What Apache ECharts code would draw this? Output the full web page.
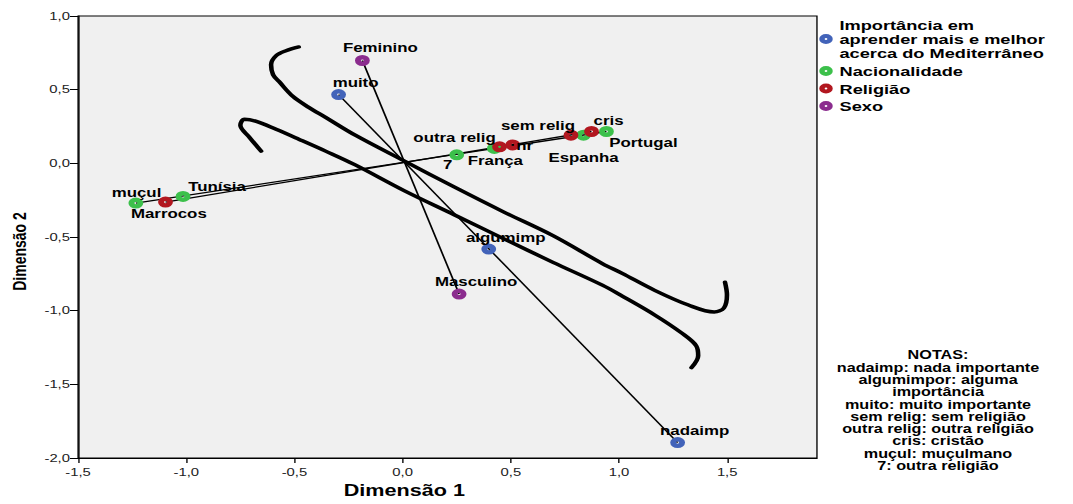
<!DOCTYPE html>
<html><head><meta charset="utf-8">
<script src="https://cdn.jsdelivr.net/npm/echarts@6/dist/echarts.min.js"></script>
<style>
html,body{margin:0;padding:0;background:#fff;overflow:hidden}
#wrap{width:1073px;height:504px;overflow:hidden}
#c{width:795px;height:504px;transform:scaleX(1.349686);transform-origin:0 0}
</style>
</head><body><div id="wrap"><div id="c"></div></div>
<script>
// ---- data ----
const xTicks = [-1.5, -1.0, -0.5, 0.0, 0.5, 1.0, 1.5];
const yTicks = [-2.0, -1.5, -1.0, -0.5, 0.0, 0.5, 1.0];

const impName = 'Importância em\naprender mais e melhor\nacerca do Mediterrâneo';
const impCats = ['muito', 'algumimp', 'nadaimp'];
const impX = [-0.296, 0.398, 1.271];
const impY = [0.467, -0.582, -1.895];

const nacName = 'Nacionalidade';
const nacCats = ['Marrocos', 'Tunísia', '7', 'França', 'Espanha', 'Portugal'];
const nacX = [-1.233, -1.015, 0.250, 0.424, 0.836, 0.942];
const nacY = [-0.270, -0.225, 0.058, 0.101, 0.191, 0.216];

const relName = 'Religião';
const relCats = ['muçul', 'outra relig', 'nr', 'sem relig', 'cris'];
const relX = [-1.096, 0.448, 0.509, 0.778, 0.873];
const relY = [-0.263, 0.112, 0.125, 0.191, 0.216];

const sexName = 'Sexo';
const sexCats = ['Feminino', 'Masculino'];
const sexX = [-0.186, 0.261];
const sexY = [0.698, -0.887];

// hand-drawn annotation strokes (data coordinates)
const strokeUpper = [[-0.480,0.790],[-0.539,0.764],[-0.585,0.730],[-0.608,0.669],[-0.599,0.602],[-0.571,0.555],[-0.507,0.454],[-0.434,0.380],[-0.356,0.312],[-0.219,0.191],[0.009,0.015],[0.238,-0.160],[0.466,-0.329],[0.695,-0.491],[0.923,-0.680],[1.015,-0.747],[1.165,-0.862],[1.321,-0.962],[1.440,-1.009],[1.485,-0.982],[1.499,-0.894],[1.490,-0.807]];
const strokeLower = [[-0.654,0.083],[-0.708,0.177],[-0.750,0.258],[-0.731,0.299],[-0.676,0.285],[-0.585,0.231],[-0.480,0.164],[-0.356,0.083],[-0.219,-0.011],[0.009,-0.187],[0.238,-0.349],[0.466,-0.511],[0.695,-0.672],[0.923,-0.827],[1.015,-0.901],[1.165,-1.029],[1.289,-1.151],[1.357,-1.239],[1.366,-1.306],[1.335,-1.387]];

const notesLines = ['NOTAS:', 'nadaimp: nada importante', 'algumimpor: alguma', 'importância', 'muito: muito importante', 'sem relig: sem religião', 'outra relig: outra religião', 'cris: cristão', 'muçul: muçulmano', '7: outra religião'];

// ---- styling ----
const SX = 1.349686; // horizontal stretch of the whole picture
const FONT = '"Liberation Sans", Arial, sans-serif';
const colors = {imp: '#4263b9', nac: '#3cc04b', rel: '#b2171f', sex: '#8b2c8e'};
const SYM = 'path://M10,0A10,10 0 1,1 -10,0A10,10 0 1,1 10,0ZM2,0A2,2 0 1,0 -2,0A2,2 0 1,0 2,0Z';
// label offsets in screen pixels (dx, dy)
const labelOff = {
  'muito':[17,-12], 'algumimp':[17,-11], 'nadaimp':[17,-12],
  'Marrocos':[33,11], 'Tunísia':[34,-10], '7':[-9,10], 'França':[1,12], 'Espanha':[0,23], 'Portugal':[37,11],
  'muçul':[-29,-9], 'outra relig':[-45,-9], 'nr':[12,1], 'sem relig':[-33,-9], 'cris':[17,-11],
  'Feminino':[18,-13], 'Masculino':[17,-12]
};

function pts(cats, xs, ys) {
  return cats.map((n, i) => ({
    name: n, value: [xs[i], ys[i]],
    label: {offset: [labelOff[n][0] / SX, labelOff[n][1]]}
  }));
}
function seg(xs, ys) {
  let a = 0, b = 0;
  xs.forEach((v, i) => { if (v < xs[a]) a = i; if (v > xs[b]) b = i; });
  return [[xs[a], ys[a]], [xs[b], ys[b]]];
}
const fmt = v => (Math.abs(v) < 1e-9 ? 0 : v).toFixed(1).replace('.', ',');

function scatter(name, color, data) {
  return {
    type: 'scatter', name, data, symbol: SYM, symbolSize: 11, z: 5,
    itemStyle: {color, opacity: 1},
    label: {show: true, position: 'inside', formatter: '{b}', color: '#000', fontFamily: FONT,
            fontWeight: 'bold', fontSize: 12.5, textBorderWidth: 0},
    emphasis: {disabled: true}
  };
}
function thin(data) {
  return {type: 'line', data, symbol: 'none', silent: true, z: 3,
          lineStyle: {color: '#000', width: 1.3}};
}
function thick(data) {
  return {type: 'line', data, symbol: 'none', silent: true, smooth: 0.35, z: 4,
          lineStyle: {color: '#000', width: 3.4, cap: 'round', join: 'round'}};
}

const chart = echarts.init(document.getElementById('c'), null, {renderer: 'svg'});
const legendText = {fontFamily: FONT, fontWeight: 'bold', fontSize: 13.5, color: '#000'};
chart.setOption({
  animation: false,
  backgroundColor: '#ffffff',
  grid: {left: 51.9, right: 189.7, top: 16, bottom: 43, show: true, backgroundColor: '#f0f0f0',
         borderColor: '#000', borderWidth: 1},
  xAxis: {
    type: 'value', min: -1.5, max: 1.915, interval: 0.5,
    name: 'Dimensão 1', nameLocation: 'middle', nameGap: 25,
    nameTextStyle: {fontFamily: FONT, fontWeight: 'bold', fontSize: 16, color: '#000', padding: [0, 64, 0, 0]},
    axisLine: {onZero: false, lineStyle: {color: '#000', width: 1}},
    axisTick: {show: true, length: 5, lineStyle: {color: '#000'}, customValues: xTicks},
    axisLabel: {fontFamily: FONT, fontSize: 11, color: '#222', margin: 9, formatter: fmt, customValues: xTicks},
    splitLine: {show: false}
  },
  yAxis: {
    type: 'value', min: -2.0, max: 1.0, interval: 0.5,
    name: 'Dimensão 2', nameLocation: 'middle', nameGap: 30,
    nameTextStyle: {fontFamily: FONT, fontWeight: 'bold', fontSize: 14, color: '#000', padding: [0, 29, 0, 0]},
    axisLine: {onZero: false, lineStyle: {color: '#000', width: 1}},
    axisTick: {show: true, length: 6, lineStyle: {color: '#000'}, customValues: yTicks},
    axisLabel: {fontFamily: FONT, fontSize: 11, color: '#222', margin: 6, formatter: fmt, customValues: yTicks},
    splitLine: {show: false}
  },
  legend: [
    {orient: 'vertical', left: 607, top: 18, padding: 0, itemWidth: 10, itemHeight: 11, icon: SYM,
     selectedMode: false, data: [impName], textStyle: Object.assign({lineHeight: 14}, legendText)},
    {orient: 'vertical', left: 607, top: 64, padding: 0, itemGap: 3.5, itemWidth: 10, itemHeight: 11, icon: SYM,
     selectedMode: false, data: [nacName, relName, sexName], textStyle: Object.assign({lineHeight: 14}, legendText)}
  ],
  graphic: [{
    type: 'text', x: 695, y: 349, silent: true,
    style: {text: notesLines.join('\n'), fontFamily: FONT, fontWeight: 'bold', fontSize: 12,
            lineHeight: 12.3, textAlign: 'center', textVerticalAlign: 'top', fill: '#000'}
  }],
  series: [
    thin(seg(impX, impY)), thin(seg(nacX, nacY)), thin(seg(relX, relY)), thin(seg(sexX, sexY)),
    thick(strokeUpper), thick(strokeLower),
    scatter(impName, colors.imp, pts(impCats, impX, impY)),
    scatter(nacName, colors.nac, pts(nacCats, nacX, nacY)),
    scatter(relName, colors.rel, pts(relCats, relX, relY)),
    scatter(sexName, colors.sex, pts(sexCats, sexX, sexY))
  ]
});
</script>
</body></html>
